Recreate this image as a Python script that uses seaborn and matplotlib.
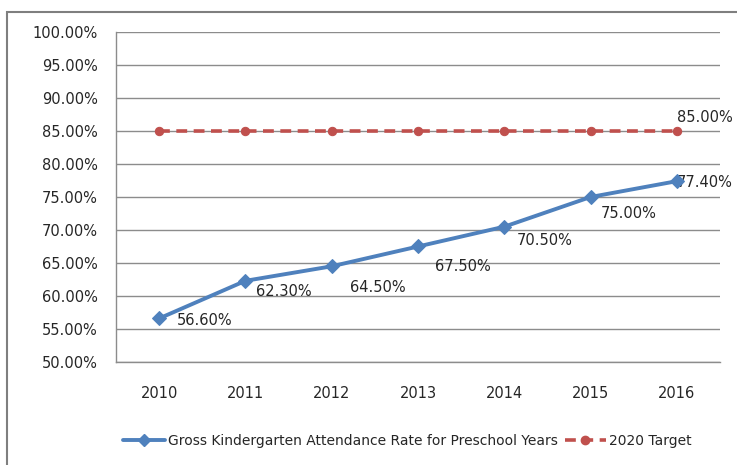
import pandas as pd
import matplotlib.pyplot as plt
import seaborn as sns
from matplotlib.lines import Line2D
from matplotlib.patches import Rectangle
from matplotlib.ticker import FixedLocator, FuncFormatter

years = [2010, 2011, 2012, 2013, 2014, 2015, 2016]
attendance = [56.6, 62.3, 64.5, 67.5, 70.5, 75.0, 77.4]
target = [85.0, 85.0, 85.0, 85.0, 85.0, 85.0, 85.0]
series_names = ["Gross Kindergarten Attendance Rate for Preschool Years", "2020 Target"]

blue = "#4F81BD"
red = "#C0504D"
grid_col = "#8C8C8C"
txt_col = "#262626"
fs = 10.5

sns.set_style("white")
plt.rcParams['font.family'] = ['DejaVu Sans']

df = pd.DataFrame({"year": years, "attendance": attendance, "target": target})

fig = plt.figure(figsize=(7.37, 4.65), dpi=100)
ax = fig.add_axes([116 / 737, 1 - 362 / 465, 604 / 737, 330 / 465])

sns.lineplot(data=df, x="year", y="target", ax=ax, color=red, lw=2.6,
             linestyle=(0, (3, 1.8)), marker="o", markersize=6,
             markeredgecolor=red, zorder=3)
sns.lineplot(data=df, x="year", y="attendance", ax=ax, color=blue, lw=2.8,
             marker="D", markersize=7, markeredgecolor=blue, zorder=4)

# data labels (Excel-style, slightly hand placed)
offsets = [(18, -2), (11, -11), (18, -21), (17, -20), (12, -14), (10, -17), (0, -1)]
for yr, v, (dx, dy) in zip(years, attendance, offsets):
    ax.annotate(f"{v:.2f}%", (yr, v), xytext=(dx, dy), textcoords="offset pixels",
                ha="left", va="center", fontsize=fs, color=txt_col)
ax.annotate(f"{target[-1]:.2f}%", (years[-1], target[-1]), xytext=(0, 13),
            textcoords="offset pixels", ha="left", va="center", fontsize=fs,
            color=txt_col)

ax.set_xlim(years[0] - 0.5, years[-1] + 0.5)
ax.set_ylim(50, 100)
ax.set_xticks(years)
ax.set_xticklabels([str(y) for y in years])
ax.xaxis.set_minor_locator(FixedLocator([y - 0.5 for y in years] + [years[-1] + 0.5]))
ax.tick_params(axis="x", which="major", length=0, pad=17, labelsize=fs, labelcolor=txt_col)
ax.tick_params(axis="x", which="minor", length=6, color=grid_col, width=1)
ax.set_yticks(range(50, 101, 5))
ax.yaxis.set_major_formatter(FuncFormatter(lambda v, p: f"{v:.2f}%"))
ax.tick_params(axis="y", length=6, color=grid_col, width=1, pad=7, labelsize=fs,
               labelcolor=txt_col)
ax.grid(axis="y", color=grid_col, lw=1)
ax.set_axisbelow(True)
for s in ["top", "right"]:
    ax.spines[s].set_visible(False)
for s in ["left", "bottom"]:
    ax.spines[s].set_color(grid_col)
    ax.spines[s].set_linewidth(1)
ax.set_xlabel("")
ax.set_ylabel("")

handles = [
    Line2D([], [], color=blue, lw=2.8, marker="D", markersize=6.5),
    Line2D([], [], color=red, lw=2.6, linestyle=(0, (3, 1.8)), marker="o", markersize=6),
]
fig.legend(handles, series_names, loc="center", bbox_to_anchor=(0.553, 0.052),
           ncol=2, frameon=False, fontsize=10, handlelength=3.0, handletextpad=0.2,
           columnspacing=0.5)

# chart outer border (cropped on the right/bottom like the source screenshot)
fig.patches.append(Rectangle((7 / 737, -0.1), 1.0, 1.1 - 12 / 465,
                             transform=fig.transFigure, fill=False,
                             edgecolor="#7F7F7F", lw=1.5))

fig.savefig("out.png", dpi=100)
